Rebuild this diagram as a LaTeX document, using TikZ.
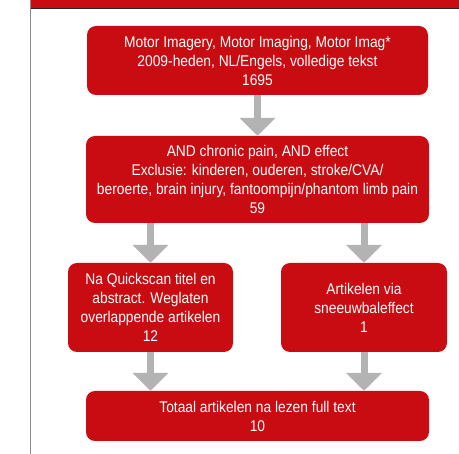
\documentclass[tikz,border=0pt]{standalone}
\usepackage{fontspec}
\setmainfont{Liberation Sans}[FakeStretch=0.89]
\usetikzlibrary{arrows.meta,positioning}
\definecolor{boxred}{RGB}{200,12,18}
\definecolor{arrowgray}{RGB}{179,179,179}
\definecolor{framegray}{RGB}{140,140,140}

\begin{document}
\begin{tikzpicture}[x=1pt,y=-1pt,
    flowbox/.style={fill=boxred, rounded corners=9pt, text=white, align=center, inner sep=0pt, font=\fontsize{15.5}{19}\selectfont},
    flowarrow/.style={draw=arrowgray, line width=7pt, -{Triangle[width=35pt,length=18pt]}}]
    \useasboundingbox (0,0) rectangle (459,454);

    \fill[boxred] (30,0) rectangle (459,8.5);
    \draw[black!85, line width=1pt] (30,9) -- (459,9);
    \draw[framegray, line width=1.2pt] (30.5,0) -- (30.5,454);

    \node[flowbox, minimum width=341pt, minimum height=69pt] (search) at (257.5,60.5)
        {Motor Imagery, Motor Imaging, Motor Imag*\\2009-heden, NL/Engels, volledige tekst\\1695};
    \node[flowbox, minimum width=343pt, minimum height=87pt] (exclude) at (257.5,179.5)
        {AND chronic pain, AND effect\\Exclusie: kinderen, ouderen, stroke/CVA/\\beroerte, brain injury, fantoompijn/phantom limb pain\\59};
    \node[flowbox, minimum width=165pt, minimum height=89pt] (quickscan) at (150.5,307.5)
        {Na Quickscan titel en\\abstract. Weglaten\\overlappende artikelen\\12};
    \node[flowbox, minimum width=166pt, minimum height=89pt] (snowball) at (364,307.5)
        {Artikelen via\\sneeuwbaleffect\\1};
    \node[flowbox, minimum width=343pt, minimum height=50pt] (total) at (257.5,416)
        {Totaal artikelen na lezen full text\\10};

    \draw[flowarrow] (search.south) -- (exclude.north);
    \draw[flowarrow] (exclude.south -| quickscan.north) -- (quickscan.north);
    \draw[flowarrow] (exclude.south -| snowball.north) -- (snowball.north);
    \draw[flowarrow] (quickscan.south) -- (quickscan.south |- total.north);
    \draw[flowarrow] (snowball.south) -- (snowball.south |- total.north);
\end{tikzpicture}
\end{document}
